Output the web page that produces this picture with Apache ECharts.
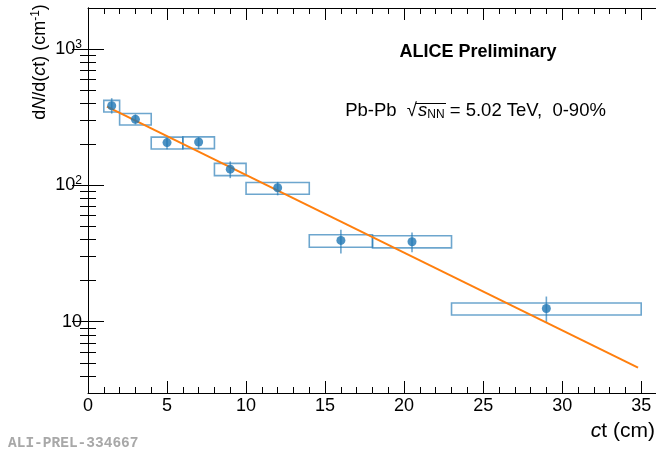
<!DOCTYPE html>
<html>
<head>
<meta charset="utf-8">
<script src="https://cdn.jsdelivr.net/npm/echarts@6/dist/echarts.min.js"></script>
<style>
  html, body { margin: 0; padding: 0; background: #fff; }
  #main { width: 656px; height: 454px; }
</style>
</head>
<body>
<div id="main"></div>
<script>
// ct bins: centre, bin edges, yield, stat. and syst. bands
var ctCenter = [1.5, 3, 5, 7, 9, 12, 16, 20.5, 29];
var binLow   = [1, 2, 4, 6, 8, 10, 14, 18, 23];
var binHigh  = [2, 4, 6, 8, 10, 14, 18, 23, 35];
var yieldVal = [384, 305, 206, 208, 131.5, 96, 39.5, 38.6, 12.5];
var statLow  = [336, 280, 184, 185, 113, 84.5, 31.7, 32.3, 9.8];
var statHigh = [436, 332, 224, 226, 150, 106, 47.2, 45.2, 15.3];
var systLow  = [345, 277, 185, 186, 118, 86, 35.2, 34.8, 11.2];
var systHigh = [420, 337, 226, 227, 145, 105, 43.4, 42.7, 13.7];
// exponential fit (straight on log axis), end points
var fitX = [1.2, 34.8];
var fitY = [378, 4.6];

// tick positions
var xMajor = [0, 5, 10, 15, 20, 25, 30, 35];
var xMinor = [1, 2, 3, 4, 6, 7, 8, 9, 11, 12, 13, 14, 16, 17, 18, 19, 21, 22, 23, 24, 26, 27, 28, 29, 31, 32, 33, 34];
var yMajor = [10, 100, 1000];
var yMinor = [4, 5, 6, 7, 8, 9, 20, 30, 40, 50, 60, 70, 80, 90, 200, 300, 400, 500, 600, 700, 800, 900];

var myChart = echarts.init(document.getElementById('main'));

var FONT = 'Liberation Sans';
var BLUE = '#1f77b4';
var LIGHT = 'rgba(31,119,180,0.65)';

var boxData = [], errData = [], ptData = [], fitData = [];
for (var i = 0; i < ctCenter.length; i++) {
    boxData.push([binLow[i], binHigh[i], systLow[i], systHigh[i]]);
    errData.push([ctCenter[i], statLow[i], statHigh[i]]);
    ptData.push([ctCenter[i], yieldVal[i]]);
}
for (var j = 0; j < fitX.length; j++) fitData.push([fitX[j], fitY[j]]);

function xAx(pos, vals, len, showLabel, showLine) {
    return {
        type: 'value', position: pos, min: 0, max: 36,
        axisLine: { show: showLine, lineStyle: { color: '#000', width: 1 } },
        axisTick: { show: true, inside: true, length: len, customValues: vals, lineStyle: { color: '#000' } },
        axisLabel: { show: showLabel, customValues: vals, margin: 4, color: '#000', fontSize: 18, fontFamily: FONT },
        splitLine: { show: false }
    };
}
function yAx(pos, vals, len, showLabel, showLine) {
    return {
        type: 'log', position: pos, min: 3, max: 2000, logBase: 10,
        axisLine: { show: showLine, lineStyle: { color: '#000', width: 1 } },
        axisTick: { show: true, inside: true, length: len, customValues: vals, lineStyle: { color: '#000' } },
        axisLabel: {
            show: showLabel, customValues: vals, margin: 6, color: '#000', fontSize: 18, fontFamily: FONT,
            formatter: function (v) {
                var e = Math.round(Math.log(v) / Math.LN10);
                if (e === 1) return '10';
                return '10{sup|' + e + '}';
            },
            rich: { sup: { fontSize: 12, fontFamily: FONT, color: '#000', padding: [0, 0, 9, 0] } }
        },
        splitLine: { show: false }
    };
}

var opt = {
    backgroundColor: '#fff',
    animation: false,
    grid: { left: 88, top: 8, width: 569, height: 385, outerBoundsMode: 'none' },
    xAxis: [
        xAx('bottom', xMajor, 12, true, true),
        xAx('bottom', xMinor, 6, false, false),
        xAx('top', xMajor, 12, false, true),
        xAx('top', xMinor, 6, false, false)
    ],
    yAxis: [
        yAx('left', yMajor, 16, true, true),
        yAx('left', yMinor, 8, false, false),
        yAx('right', yMajor, 16, false, true),
        yAx('right', yMinor, 8, false, false)
    ],
    graphic: [
        {
            type: 'text', x: 40, y: 62, rotation: Math.PI / 2,
            style: {
                text: 'd{i|N}/d({i|c}t) (cm{sup|-1})', fill: '#000',
                font: '18px "' + FONT + '"', align: 'center', verticalAlign: 'middle',
                rich: {
                    i: { fontStyle: 'italic', fontSize: 18, fontFamily: FONT },
                    sup: { fontSize: 12, fontFamily: FONT, padding: [0, 0, 9, 0] }
                }
            }
        },
        {
            type: 'text', x: 655, y: 431,
            style: {
                text: '{i|c}t (cm)', fill: '#000', font: '21px "' + FONT + '"',
                align: 'right', verticalAlign: 'middle',
                rich: { i: { fontStyle: 'italic', fontSize: 21, fontFamily: FONT } }
            }
        },
        {
            type: 'text', x: 478, y: 52,
            style: {
                text: 'ALICE Preliminary', fill: '#000', font: 'bold 18px "' + FONT + '"',
                align: 'center', verticalAlign: 'middle'
            }
        },
        {
            type: 'text', x: 417, y: 111,
            style: {
                text: 'Pb-Pb  \u221A', fill: '#000',
                font: '18.5px "' + FONT + '"', align: 'right', verticalAlign: 'middle'
            }
        },
        {
            type: 'text', x: 418, y: 111,
            style: {
                text: '{i|s}{sub|NN} = 5.02 TeV,  0-90%', fill: '#000',
                font: '18.5px "' + FONT + '"', align: 'left', verticalAlign: 'middle',
                rich: {
                    i: { fontStyle: 'italic', fontSize: 18.5, fontFamily: FONT },
                    sub: { fontSize: 12, fontFamily: FONT, padding: [8, 0, 0, 0] }
                }
            }
        },
        {
            type: 'line', shape: { x1: 416, y1: 103.5, x2: 446, y2: 103.5 },
            style: { stroke: '#000', lineWidth: 1 }
        },
        {
            type: 'text', x: 8, y: 443,
            style: {
                text: 'ALI-PREL-334667', fill: '#a8a8a8',
                font: 'bold 14.5px "Liberation Mono"', align: 'left', verticalAlign: 'middle'
            }
        }
    ],
    series: [
        {
            // systematic boxes
            type: 'custom', xAxisIndex: 0, yAxisIndex: 0, data: boxData, z: 2,
            renderItem: function (params, api) {
                var p1 = api.coord([api.value(0), api.value(3)]);
                var p2 = api.coord([api.value(1), api.value(2)]);
                return {
                    type: 'rect',
                    shape: { x: p1[0], y: p1[1], width: p2[0] - p1[0], height: p2[1] - p1[1] },
                    style: { fill: 'none', stroke: LIGHT, lineWidth: 1.6 }
                };
            }
        },
        {
            // statistical error bars
            type: 'custom', xAxisIndex: 0, yAxisIndex: 0, data: errData, z: 3,
            renderItem: function (params, api) {
                var a = api.coord([api.value(0), api.value(1)]);
                var b = api.coord([api.value(0), api.value(2)]);
                return {
                    type: 'line',
                    shape: { x1: a[0], y1: a[1], x2: b[0], y2: b[1] },
                    style: { stroke: LIGHT, lineWidth: 1.6 }
                };
            }
        },
        {
            type: 'line', xAxisIndex: 0, yAxisIndex: 0, data: fitData, z: 4,
            showSymbol: false, symbol: 'none',
            lineStyle: { color: '#ff7f0e', width: 2 }
        },
        {
            type: 'scatter', xAxisIndex: 0, yAxisIndex: 0, data: ptData, z: 5,
            symbol: 'circle', symbolSize: 9,
            itemStyle: { color: BLUE }
        }
    ]
};
myChart.setOption(opt);
</script>
</body>
</html>
